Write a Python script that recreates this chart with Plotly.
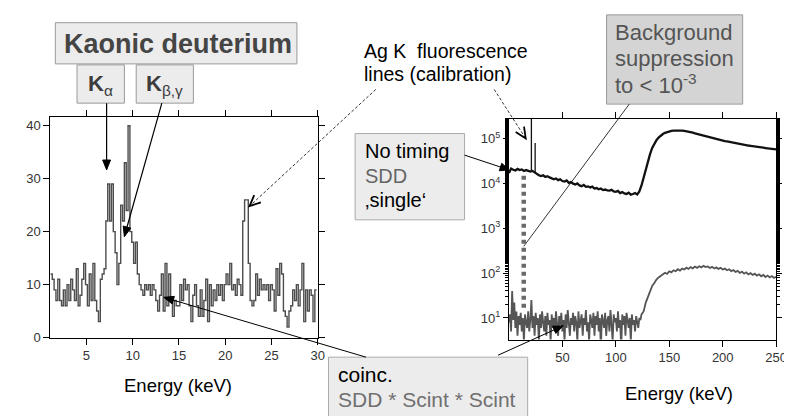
import numpy as np
import plotly.graph_objects as go

W, H = 792, 416
FONT = "Liberation Sans, Arial, sans-serif"

# ---------------- data ----------------
# Left: kaonic deuterium spectrum (counts per 0.2 keV bin, starting at 1.1 keV)
kd_bin_start = 1.1
kd_bin_width = 0.2
kd_counts = [
    12, 11, 9, 7, 11, 7, 6, 9, 6, 10,
    7, 11, 9, 7, 13, 6, 8, 11, 14, 10,
    6, 12, 7, 14, 7, 5, 3, 11, 12, 13,
    22, 29, 22, 29, 20, 16, 10, 14, 25, 22,
    33, 24, 40, 20, 18, 14, 18, 12, 10, 9,
    8, 10, 9, 10, 8, 10, 9, 7, 5, 8,
    12, 5, 14, 6, 12, 7, 4, 7, 6, 6,
    10, 7, 11, 9, 10, 6, 3, 8, 10, 6,
    4, 9, 4, 7, 11, 3, 10, 6, 9, 7,
    10, 8, 10, 7, 10, 12, 10, 14, 9, 10,
    8, 11, 10, 8, 22, 26, 26, 14, 7, 6,
    7, 12, 8, 11, 9, 10, 9, 10, 7, 10,
    9, 5, 13, 8, 14, 12, 5, 4, 2, 5,
    6, 9, 7, 10, 6, 9, 14, 3, 9, 5,
    9, 8, 3, 9,
]

# Right: SDD spectra, no timing (black) and triple coincidence (gray)
single_keV_step = 2
single_counts = [
    17000, 21500, 20200, 19400, 21000, 19800, 20500, 18900, 19800, 19200,
    18300, 19000, 17500, 16000, 15200, 14600, 15100, 13900, 14500, 13600,
    13000, 12400, 12900, 11800, 12300, 11300, 11000, 11600, 10300, 10700,
    9900, 9500, 10000, 9000, 8700, 9300, 8400, 8600, 8100, 8500,
    7700, 7900, 7400, 7700, 7100, 7300, 7000, 6900, 7200, 6600,
    6500, 6800, 6100, 6400, 6000, 5800, 6200, 5600, 5800, 6100,
    5700, 6600, 9000, 14000, 21000, 32000, 45000, 62000, 78000, 92000,
    105000, 116000, 126000, 134000, 140000, 145000, 148000, 151000, 152000, 153000,
    152000, 151000, 148000, 146000, 142000, 139000, 135000, 131000, 127000, 124000,
    120000, 116000, 112000, 109000, 105000, 102000, 99000, 97000, 94000, 92000,
    90000, 88000, 86000, 84000, 82000, 80500, 79000, 77500, 76000, 74500,
    73000, 71500, 70000, 69000, 67500, 66500, 65500, 64500, 63500, 62500,
    61500, 60500, 60000, 59000, 58000, 57500,
]
ag_line_keV = [21.0, 24.5]
ag_line_peak = [400000, 80000]
ag_line_base = [19000, 17500]

coinc_low_counts = [  # 0..124 keV, 1 keV steps
    8, 12, 5, 40, 9, 22, 6, 14, 4, 11,
    7, 13, 5, 10, 3, 12, 8, 6, 14, 5,
    9, 25, 6, 11, 4, 13, 7, 10, 3, 12,
    6, 14, 8, 5, 11, 4, 13, 7, 9, 3,
    12, 6, 10, 5, 14, 8, 4, 11, 7, 13,
    5, 9, 3, 12, 6, 15, 8, 4, 10, 7,
    13, 5, 11, 8, 3, 14, 6, 9, 12, 4,
    10, 7, 15, 5, 8, 3, 12, 9, 6, 13,
    4, 11, 7, 14, 5, 10, 2, 12, 8, 6,
    13, 4, 9, 11, 5, 15, 7, 3, 12, 8,
    10, 5, 14, 6, 9, 2, 12, 7, 11, 4,
    13, 8, 6, 10, 3, 12, 7, 9, 5, 11,
    8, 6, 10, 9, 12,
]
coinc_high_counts = [  # 126..250 keV, 2 keV steps
    14, 22, 30, 40, 52, 60, 72, 80, 88, 95,
    102, 96, 110, 104, 116, 110, 122, 114, 126, 120,
    132, 124, 136, 128, 140, 131, 142, 134, 145, 136,
    141, 130, 138, 127, 134, 124, 131, 120, 126, 116,
    122, 111, 117, 106, 112, 101, 108, 97, 104, 94,
    100, 91, 97, 88, 94, 85, 91, 82, 88, 80,
    86, 78, 83,
]

left_xticks = [5, 10, 15, 20, 25, 30]
left_yticks = [0, 10, 20, 30, 40]
right_xticks = [50, 100, 150, 200, 250]
right_yticks = [10, 100, 1000, 10000, 100000]
right_yticktext = ["10<sup>1</sup>", "10<sup>2</sup>", "10<sup>3</sup>", "10<sup>4</sup>", "10<sup>5</sup>"]

# ---------------- helpers ----------------
def X(px):
    return px / W

def Y(py):
    return 1 - py / H

fig = go.Figure()

# left histogram
edges = kd_bin_start + kd_bin_width * np.arange(len(kd_counts) + 1)
fig.add_trace(go.Scatter(
    x=list(edges), y=list(kd_counts) + [kd_counts[-1]],
    mode="lines", line=dict(shape="hv", color="#4d4d4d", width=1.4),
    xaxis="x", yaxis="y", showlegend=False, hoverinfo="skip"))

# right: single spectrum
e_single = np.arange(len(single_counts)) * single_keV_step
fig.add_trace(go.Scatter(
    x=e_single, y=single_counts, mode="lines",
    line=dict(color="#111111", width=2.3),
    xaxis="x2", yaxis="y2", showlegend=False, hoverinfo="skip"))
ag_x, ag_y = [], []
for e, p, b in zip(ag_line_keV, ag_line_peak, ag_line_base):
    ag_x += [e, e, None]
    ag_y += [b, p, None]
fig.add_trace(go.Scatter(
    x=ag_x, y=ag_y, mode="lines", line=dict(color="#111111", width=1.3),
    xaxis="x2", yaxis="y2", showlegend=False, hoverinfo="skip"))

# right: coincidence spectrum
e_coinc = list(np.arange(len(coinc_low_counts))) + list(126 + 2 * np.arange(len(coinc_high_counts)))
fig.add_trace(go.Scatter(
    x=e_coinc, y=coinc_low_counts + coinc_high_counts, mode="lines",
    line=dict(color="#555555", width=1.8),
    xaxis="x2", yaxis="y2", showlegend=False, hoverinfo="skip"))

axis_common = dict(showline=True, linecolor="black", linewidth=1, mirror="ticks",
                   ticks="outside", tickcolor="black", ticklen=6, showgrid=False,
                   zeroline=False, tickfont=dict(family=FONT, size=13, color="#333"))

fig.update_layout(
    width=W, height=H, margin=dict(l=0, r=0, t=0, b=0),
    paper_bgcolor="white", plot_bgcolor="white",
    xaxis=dict(domain=[X(43), X(314)], range=[kd_bin_start, 30], tickvals=left_xticks,
               anchor="y", **axis_common),
    yaxis=dict(domain=[Y(336), Y(111)], range=[0, 41.67], tickvals=left_yticks,
               anchor="x", **axis_common),
    xaxis2=dict(domain=[X(508), X(779)], range=[0, 250], tickvals=right_xticks,
                anchor="y2", **axis_common),
    yaxis2=dict(domain=[Y(338), Y(113)], type="log", range=[0.52, 5.44],
                tickvals=right_yticks, ticktext=right_yticktext, anchor="x2",
                minor=dict(ticks="outside", ticklen=3, tickcolor="black"),
                **{**axis_common, "ticklen": 5}),
)

shapes = []
annots = []

def rect(x0, y0, x1, y1, fill, line="#9a9a9a"):
    shapes.append(dict(type="rect", xref="paper", yref="paper",
                       x0=X(x0), x1=X(x1), y0=Y(y1), y1=Y(y0),
                       fillcolor=fill, line=dict(color=line, width=1), layer="above"))

def text(px, py, s, size, color, anchor="left", bold=False):
    if bold:
        s = "<b>" + s + "</b>"
    annots.append(dict(xref="paper", yref="paper", x=X(px), y=Y(py), text=s,
                       showarrow=False, xanchor=anchor, yanchor="middle", borderpad=0,
                       font=dict(family=FONT, size=size, color=color)))

def line(x0, y0, x1, y1, width=1.0, color="black", dash="solid"):
    shapes.append(dict(type="line", xref="paper", yref="paper",
                       x0=X(x0), y0=Y(y0), x1=X(x1), y1=Y(y1),
                       line=dict(color=color, width=width, dash=dash), layer="above"))

def arrow(x0, y0, x1, y1, head="filled", width=1.0, L=9, Wd=4, dash="solid"):
    line(x0, y0, x1, y1, width=width, dash=dash)
    dx, dy = x1 - x0, y1 - y0
    n = (dx * dx + dy * dy) ** 0.5
    ux, uy = dx / n, dy / n
    qx, qy = -uy, ux
    bx, by = x1 - ux * L, y1 - uy * L
    p1 = (bx + qx * Wd, by + qy * Wd)
    p2 = (bx - qx * Wd, by - qy * Wd)
    path = "M {} {} L {} {} L {} {}".format(X(p1[0]), Y(p1[1]), X(x1), Y(y1), X(p2[0]), Y(p2[1]))
    if head == "filled":
        shapes.append(dict(type="path", xref="paper", yref="paper", path=path + " Z",
                           fillcolor="black", line=dict(color="black", width=1), layer="above"))
    else:
        shapes.append(dict(type="path", xref="paper", yref="paper", path=path,
                           line=dict(color="black", width=1.8), layer="above"))

# Kaonic deuterium boxes
rect(48, 15, 293, 57, "#ececec")
text(172, 37, "Kaonic deuterium", 27, "#454545", anchor="center", bold=True)
rect(70, 58, 118, 97, "#ececec")
text(94, 78, "<b>K</b><sub>α</sub>", 22, "#3c3c3c", anchor="center")
rect(130, 58, 188, 97, "#ececec")
text(159, 78, "<b>K</b><sub>β,γ</sub>", 22, "#3c3c3c", anchor="center")
arrow(100, 97, 100, 165, "filled", width=1.2, L=10, Wd=4)
arrow(156, 97, 118, 233, "filled", width=1.2, L=10, Wd=4)

# Ag K text and arrows
text(360, 44, "Ag K&nbsp; fluorescence", 19.5, "black")
text(360, 67, "lines (calibration)", 19.5, "black")
arrow(373, 83, 245, 202, "open", width=0.8, L=11, Wd=5, dash="3px,2px")
arrow(493, 83, 525, 133, "open", width=0.8, L=11, Wd=5, dash="3px,2px")

# Background suppression
rect(607, 7, 745, 98, "#d4d4d4")
text(615, 25, "Background", 22, "#555555")
text(615, 51, "suppression", 22, "#555555")
text(615, 77, "to &lt; 10<sup>-3</sup>", 22, "#555555")
line(630, 98, 523, 243, width=0.8)

# dotted suppression marker
line(523, 171, 523, 308, width=4.5, color="#6a6a6a", dash="4px,4px")

# No timing box
rect(352, 128, 463, 216, "#ececec", line="#aaaaaa")
text(361, 146, "No timing", 20, "black")
text(361, 171, "SDD", 20, "#666666")
text(361, 196, "‚single‘", 20, "black")
arrow(463, 150, 508, 165, "filled", width=1.0, L=9, Wd=4)

# coinc box
rect(325, 356, 527, 422, "#ececec", line="#aaaaaa")
text(334, 374, "coinc.", 21, "black")
text(334, 399, "SDD * Scint * Scint", 21, "#707070")
arrow(363, 356, 158, 295, "filled", width=1.0, L=10, Wd=4)
arrow(497, 354, 563, 324, "filled", width=1.0, L=10, Wd=4)

# axis titles
text(172, 385, "Energy (keV)", 18.5, "black", anchor="center")
text(680, 393, "Energy (keV)", 18.5, "black", anchor="center")

fig.update_layout(shapes=shapes, annotations=annots)
fig.write_html("out.html")
